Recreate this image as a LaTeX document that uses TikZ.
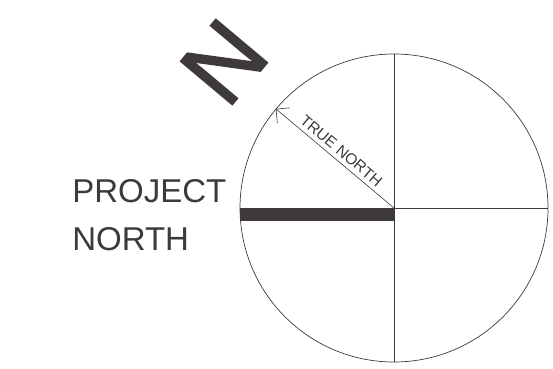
\documentclass[tikz,border=0pt]{standalone}
\usepackage{fontspec}
\setmainfont{Liberation Sans}
\newfontfamily\heavyn{Liberation Sans}[FakeBold=1.5]
\usetikzlibrary{shapes, arrows.meta, positioning}
\definecolor{ink}{HTML}{3E3A39}

\begin{document}
\begin{tikzpicture}[x=1pt, y=1pt, line width=0.7pt, draw=ink, auto]
  \useasboundingbox (0,0) rectangle (553,368);
  % Nodes
  \node [circle, draw=ink, minimum size=308pt, inner sep=0pt] (dial) at (394,160) {};
  \node [text=ink, rotate=50, font=\heavyn\fontsize{98}{98}\selectfont, inner sep=0pt] (bign) at (224,306) {N};
  \node [text=ink, align=left, anchor=base west, inner sep=0pt,
         font=\fontsize{33}{48}\selectfont] (project) at (72,118) {PROJECT\\NORTH};

  % Edges
  \draw [ink] (dial.north) -- (dial.south);
  \draw [ink] (dial.west) -- (dial.east);
  \fill [ink] (dial.west) rectangle ([yshift=-13pt]dial.center);
  \draw [ink, line width=0.6pt, -{Straight Barb[length=10pt, width=20pt]}] (dial.center) -- (dial.140)
    node [pos=0.5, sloped, above=1pt, text=ink, font=\fontsize{15.5}{15.5}\selectfont] (truenorth) {TRUE NORTH};
\end{tikzpicture}
\end{document}
